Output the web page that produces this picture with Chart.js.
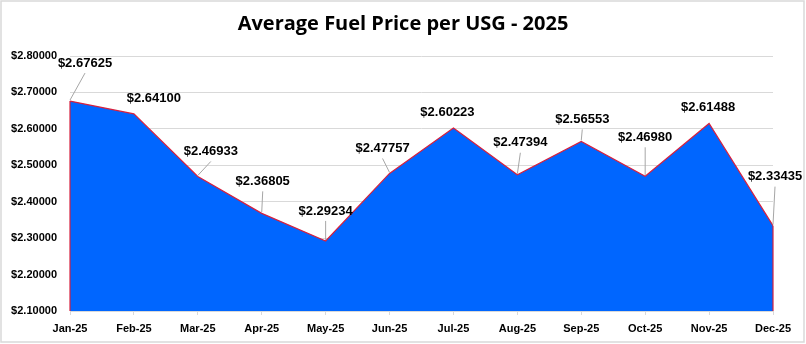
<!DOCTYPE html>
<html>
<head>
<meta charset="utf-8">
<script src="https://cdn.jsdelivr.net/npm/chart.js@4"></script>
<style>
  html, body { margin: 0; padding: 0; background: #fff; }
  #wrap { position: relative; width: 806px; height: 344px; }
</style>
</head>
<body>
<div id="wrap"><canvas id="fuelChart" width="806" height="344"></canvas></div>
<script>
const months = ["Jan-25","Feb-25","Mar-25","Apr-25","May-25","Jun-25","Jul-25","Aug-25","Sep-25","Oct-25","Nov-25","Dec-25"];
const avgPrice = [2.67625, 2.64100, 2.46933, 2.36805, 2.29234, 2.47757, 2.60223, 2.47394, 2.56553, 2.46980, 2.61488, 2.33435];
const yMin = 2.1;
const yMax = 2.8;
const yStep = 0.1;
const chartTitle = "Average Fuel Price per USG - 2025";

// label placement, pixels relative to the point (like Excel's dragged labels)
const labelDx = [15, 20, 13, 1, 0, -7, -6, 3, 1, 0, -1, 2];
const labelDy = [-38, -15, -25, -32, -30, -25, -16, -32, -22, -39, -16, -49];

const fmt = v => "$" + v.toFixed(5);

// frame round the whole chart, title centred on the full canvas
const framePlugin = {
  id: "frame",
  beforeDraw(chart) {
    const c = chart.ctx;
    c.save();
    c.fillStyle = "#fff";
    c.fillRect(0, 0, chart.width, chart.height);
    c.strokeStyle = "#d9d9d9";
    c.lineWidth = 1.5;
    c.strokeRect(1, 1, chart.width - 3, chart.height - 3);
    c.fillStyle = "#000";
    c.font = "bold 20px 'Open Sans', 'Liberation Sans', sans-serif";
    c.textAlign = "center";
    c.textBaseline = "middle";
    c.fillText(chartTitle, chart.width / 2, 24);
    c.restore();
  }
};

// red edges at both ends of the area + data labels with leader lines
const labelPlugin = {
  id: "priceLabels",
  afterDatasetsDraw(chart) {
    const c = chart.ctx;
    const pts = chart.getDatasetMeta(0).data;
    const bottom = chart.scales.y.getPixelForValue(yMin);
    c.save();
    c.strokeStyle = "#d6213f";
    c.lineWidth = 1.2;
    [pts[0], pts[pts.length - 1]].forEach(p => {
      c.beginPath();
      c.moveTo(p.x, p.y);
      c.lineTo(p.x, bottom);
      c.stroke();
    });

    c.font = "bold 13px 'Liberation Sans', Arial, sans-serif";
    c.textAlign = "center";
    c.textBaseline = "middle";
    pts.forEach((p, i) => {
      const lx = p.x + labelDx[i];
      const ly = p.y + labelDy[i];
      const endY = ly + 10;
      if (p.y - endY > 8) {
        c.strokeStyle = "#a6a6a6";
        c.lineWidth = 1;
        c.beginPath();
        c.moveTo(p.x, p.y - 1);
        c.lineTo(lx, endY);
        c.stroke();
      }
      c.fillStyle = "#000";
      c.fillText(fmt(avgPrice[i]), lx, ly);
    });
    c.restore();
  }
};

new Chart(document.getElementById("fuelChart"), {
  type: "line",
  data: {
    labels: months,
    datasets: [{
      data: avgPrice,
      fill: "start",
      backgroundColor: "#0066ff",
      borderColor: "#d6213f",
      borderWidth: 1.2,
      pointRadius: 0,
      tension: 0
    }]
  },
  options: {
    responsive: false,
    animation: false,
    layout: { padding: { left: 10, right: 33, top: 56, bottom: 0 } },
    plugins: {
      legend: { display: false },
      tooltip: { enabled: false },
      title: { display: false }
    },
    scales: {
      x: {
        offset: false,
        grid: { display: true, drawOnChartArea: false, drawTicks: true, tickLength: 4, color: "#d9d9d9" },
        border: { display: true, color: "#d9d9d9" },
        ticks: {
          color: "#000",
          padding: 7,
          maxRotation: 0,
          autoSkip: false,
          font: { family: "'Liberation Sans', Arial, sans-serif", size: 11, weight: "bold" }
        },
        afterFit(scale) { scale.height = 33; }
      },
      y: {
        min: yMin,
        max: yMax,
        grid: { color: "#d9d9d9", drawTicks: false },
        border: { display: false },
        ticks: {
          stepSize: yStep,
          color: "#000",
          padding: 13,
          callback: v => fmt(v),
          font: { family: "'Liberation Sans', Arial, sans-serif", size: 11, weight: "bold" }
        },
        afterFit(scale) { scale.width = 60; }
      }
    }
  },
  plugins: [framePlugin, labelPlugin]
});
</script>
</body>
</html>
